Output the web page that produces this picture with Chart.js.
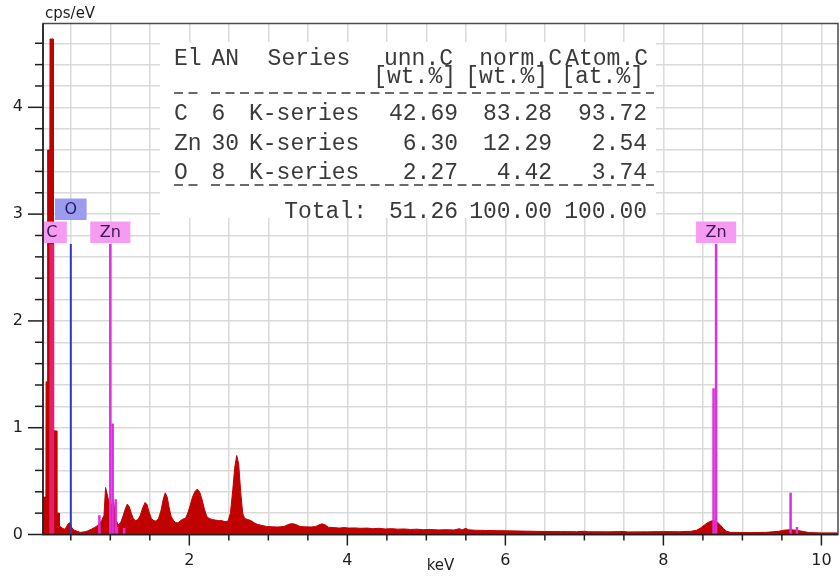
<!DOCTYPE html>
<html>
<head>
<meta charset="utf-8">
<script src="https://cdn.jsdelivr.net/npm/chart.js@4/dist/chart.umd.min.js"></script>
<style>
  html, body { margin: 0; padding: 0; background: #ffffff; }
  #wrap { width: 840px; height: 578px; }
</style>
</head>
<body>
<div id="wrap"><canvas id="edx" width="840" height="578"></canvas></div>
<script>
// EDX spectrum: energy (keV) and count rate (cps/eV)
const energyKeV = [
  0.148, 0.185, 0.187, 0.205, 0.207, 0.235, 0.237, 0.278, 0.280, 0.321,
  0.323, 0.354, 0.356, 0.39, 0.42, 0.445, 0.465, 0.49, 0.515, 0.545,
  0.58, 0.62, 0.68, 0.72, 0.76, 0.80, 0.83, 0.86, 0.89, 0.92,
  0.94, 0.975, 1.00, 1.04, 1.07, 1.10, 1.13, 1.16, 1.19, 1.215,
  1.24, 1.265, 1.29, 1.32, 1.35, 1.38, 1.41, 1.44, 1.465, 1.49,
  1.52, 1.55, 1.58, 1.61, 1.64, 1.67, 1.695, 1.72, 1.745, 1.77,
  1.80, 1.83, 1.86, 1.89, 1.92, 1.95, 1.98, 2.01, 2.04, 2.07,
  2.10, 2.13, 2.16, 2.19, 2.22, 2.25, 2.29, 2.33, 2.37, 2.41,
  2.45, 2.49, 2.52, 2.55, 2.575, 2.60, 2.625, 2.65, 2.675, 2.70,
  2.74, 2.78, 2.82, 2.86, 2.92, 2.98, 3.05, 3.12, 3.20, 3.24,
  3.28, 3.32, 3.36, 3.40, 3.46, 3.54, 3.60, 3.64, 3.68, 3.72,
  3.76, 3.82, 3.90, 3.96, 4.02, 4.10, 4.16, 4.25, 4.32, 4.40,
  4.48, 4.56, 4.64, 4.72, 4.80, 4.88, 4.96, 5.05, 5.15, 5.25,
  5.35, 5.42, 5.45, 5.50, 5.53, 5.62, 5.75, 5.90, 6.05, 6.20,
  6.35, 6.50, 6.70, 6.90, 7.00, 7.05, 7.30, 7.50, 7.55, 7.80,
  8.00, 8.20, 8.35, 8.42, 8.47, 8.52, 8.57, 8.62, 8.67, 8.72,
  8.76, 8.80, 8.85, 9.10, 9.30, 9.46, 9.52, 9.60, 9.68, 9.76,
  9.84, 10.00, 10.21
];
const countsPerEv = [
  0.35, 0.35, 1.43, 1.43, 3.60, 3.60, 4.64, 4.64, 0.97, 0.97,
  0.20, 0.20, 0.08, 0.06, 0.05, 0.07, 0.10, 0.11, 0.06, 0.04,
  0.03, 0.02, 0.025, 0.035, 0.05, 0.065, 0.08, 0.10, 0.13, 0.18,
  0.44, 0.33, 0.25, 0.32, 0.14, 0.09, 0.11, 0.17, 0.24, 0.285,
  0.26, 0.20, 0.15, 0.13, 0.14, 0.18, 0.25, 0.30, 0.28, 0.21,
  0.15, 0.13, 0.125, 0.15, 0.22, 0.33, 0.39, 0.35, 0.25, 0.17,
  0.13, 0.11, 0.11, 0.13, 0.145, 0.15, 0.20, 0.27, 0.35, 0.40,
  0.425, 0.40, 0.33, 0.24, 0.17, 0.15, 0.14, 0.135, 0.13, 0.13,
  0.12, 0.125, 0.20, 0.42, 0.63, 0.74, 0.66, 0.40, 0.20, 0.15,
  0.14, 0.13, 0.11, 0.095, 0.085, 0.075, 0.072, 0.07, 0.075, 0.09,
  0.10, 0.10, 0.09, 0.075, 0.072, 0.07, 0.075, 0.09, 0.10, 0.09,
  0.068, 0.065, 0.06, 0.065, 0.06, 0.062, 0.058, 0.06, 0.055, 0.058,
  0.052, 0.055, 0.05, 0.052, 0.047, 0.05, 0.045, 0.047, 0.043, 0.045,
  0.042, 0.055, 0.043, 0.058, 0.044, 0.04, 0.038, 0.036, 0.034, 0.032,
  0.03, 0.028, 0.027, 0.026, 0.03, 0.026, 0.025, 0.028, 0.024, 0.025,
  0.027, 0.026, 0.03, 0.04, 0.06, 0.09, 0.115, 0.13, 0.125, 0.09,
  0.055, 0.03, 0.02, 0.018, 0.02, 0.03, 0.04, 0.045, 0.04, 0.03,
  0.018, 0.015, 0.015
];

// Element marker lines
const lineElements = ['C', 'O', 'Zn', 'Zn', 'Zn', 'Zn', 'Zn', 'Zn', 'Zn', 'Zn', 'Zn', 'Zn'];
const lineEnergies = [0.259, 0.500, 0.862, 1.000, 1.030, 1.068, 1.085, 1.175, 8.635, 8.667, 9.610, 9.690];
const lineHeights  = [2.72, 2.72, 0.18, 2.72, 1.04, 0.33, 0.07, 0.06, 1.37, 2.72, 0.39, 0.07];

// Element labels sitting on top of the principal lines
const labelElements = ['C', 'O', 'Zn', 'Zn'];
const labelEnergies = [0.259, 0.500, 1.000, 8.667];

// Quantification table
const tableHeader   = ['El', 'AN', 'Series', 'unn.C', 'norm.C', 'Atom.C'];
const tableUnits    = ['[wt.%]', '[wt.%]', '[at.%]'];
const tableElements = ['C', 'Zn', 'O'];
const tableAN       = ['6', '30', '8'];
const tableSeries   = ['K-series', 'K-series', 'K-series'];
const unnC          = [42.69, 6.30, 2.27];
const normC         = [83.28, 12.29, 4.42];
const atomC         = [93.72, 2.54, 3.74];
const tableTotals   = [51.26, 100.00, 100.00];

// Axis tick labels
const xTickLabels = [2, 4, 6, 8, 10];
const yTickLabels = [0, 1, 2, 3, 4];

// ---- styles ----
const elementStyle = {
  C:  { line: '#e4206c', width: 5,   box: '#f59bf2', text: '#3a1550' },
  O:  { line: '#3038c4', width: 2,   box: '#9b9cf0', text: '#1c1c5a' },
  Zn: { line: '#de2fde', width: 2.5, box: '#f59bf2', text: '#3a1550' }
};
const sansFont = '"DejaVu Sans", Verdana, sans-serif';
const monoFont = '"Liberation Mono", "DejaVu Sans Mono", monospace';

const near = (v, t) => Math.abs(v - t) < 1e-6;

const spectrum = {
  type: 'line',
  label: 'spectrum',
  data: energyKeV.map((e, i) => ({ x: e, y: countsPerEv[i] })),
  borderColor: '#c10000',
  backgroundColor: '#c10000',
  borderWidth: 1,
  pointRadius: 0,
  tension: 0,
  fill: 'origin',
  order: 10
};

const markerSets = lineEnergies.map((e, i) => {
  const st = elementStyle[lineElements[i]];
  return {
    type: 'line',
    label: lineElements[i],
    data: [{ x: e, y: 0 }, { x: e, y: lineHeights[i] }],
    borderColor: st.line,
    borderWidth: st.width,
    borderCapStyle: 'butt',
    pointRadius: 0,
    fill: false,
    order: 1
  };
});

const decor = {
  id: 'edxDecor',
  afterDatasetsDraw(chart) {
    const ctx = chart.ctx;
    const { left, right, top, bottom } = chart.chartArea;
    const xs = chart.scales.x, ys = chart.scales.y;
    ctx.save();

    // element label boxes, stacked upward when they collide
    ctx.font = '16px ' + sansFont;
    const boxH = 21.5, gap = 1.5;
    const baseBottom = ys.getPixelForValue(Math.max(...lineHeights)) - 1;
    const placed = [];
    labelElements.forEach((el, i) => {
      const st = elementStyle[el];
      const cx = xs.getPixelForValue(labelEnergies[i]);
      const w = ctx.measureText(el).width + 19;
      const x0 = cx - w / 2, x1 = cx + w / 2;
      let tier = 0;
      while (placed.some(p => p.tier === tier && x0 < p.x1 && x1 > p.x0)) tier++;
      placed.push({ x0, x1, tier });
      const yb = baseBottom - tier * (boxH + gap);
      const bx0 = Math.max(left + 1, x0), bx1 = Math.min(right - 1, x1);
      ctx.fillStyle = st.box;
      ctx.fillRect(bx0, yb - boxH, bx1 - bx0, boxH);
      ctx.fillStyle = st.text;
      ctx.textAlign = 'center';
      ctx.textBaseline = 'middle';
      ctx.fillText(el, cx, yb - boxH / 2 + 1);
    });

    // quantification table
    ctx.fillStyle = '#ffffff';
    ctx.fillRect(160, 42, 496, 176);
    ctx.fillStyle = '#3a3a3a';
    ctx.font = '23px ' + monoFont;
    ctx.textBaseline = 'alphabetic';
    const colR = [458, 552, 647];
    const headR = [453, 562, 648];
    const unitR = [456, 548, 644];
    ctx.textAlign = 'left';
    ctx.fillText(tableHeader[0], 174, 65);
    ctx.fillText(tableHeader[1], 211.5, 65);
    ctx.textAlign = 'center';
    ctx.fillText(tableHeader[2], 309, 65);
    ctx.textAlign = 'right';
    for (let c = 0; c < 3; c++) {
      ctx.fillText(tableHeader[3 + c], headR[c], 65);
      ctx.fillText(tableUnits[c], unitR[c], 83);
    }
    const rowY = [120, 149.5, 179];
    tableElements.forEach((el, r) => {
      ctx.textAlign = 'left';
      ctx.fillText(el, 174, rowY[r]);
      ctx.fillText(tableAN[r], 211.5, rowY[r]);
      ctx.fillText(tableSeries[r], 249, rowY[r]);
      ctx.textAlign = 'right';
      ctx.fillText(unnC[r].toFixed(2), colR[0], rowY[r]);
      ctx.fillText(normC[r].toFixed(2), colR[1], rowY[r]);
      ctx.fillText(atomC[r].toFixed(2), colR[2], rowY[r]);
    });
    ctx.textAlign = 'right';
    ctx.fillText('Total:', 367, 218);
    tableTotals.forEach((v, c) => ctx.fillText(v.toFixed(2), colR[c], 218));

    ctx.strokeStyle = '#3a3a3a';
    ctx.lineWidth = 1.5;
    ctx.setLineDash([9, 5.5]);
    [93, 185].forEach(y => {
      ctx.beginPath();
      ctx.moveTo(174, y); ctx.lineTo(198, y);
      ctx.moveTo(211, y); ctx.lineTo(654, y);
      ctx.stroke();
    });
    ctx.setLineDash([]);

    // plot frame
    ctx.strokeStyle = '#4a4a4a';
    ctx.lineWidth = 1.5;
    ctx.strokeRect(left, top, right - left, bottom - top);
    ctx.strokeStyle = '#1e1e1e';
    ctx.beginPath();
    ctx.moveTo(left, top); ctx.lineTo(left, bottom); ctx.lineTo(right, bottom);
    ctx.stroke();

    // tick marks
    ctx.lineWidth = 1.5;
    ys.ticks.forEach(t => {
      const y = ys.getPixelForValue(t.value);
      const major = yTickLabels.some(v => near(v, t.value));
      ctx.beginPath();
      ctx.moveTo(left - (major ? 15 : 8), y);
      ctx.lineTo(left, y);
      ctx.stroke();
    });
    xs.ticks.forEach(t => {
      const x = xs.getPixelForValue(t.value);
      const major = xTickLabels.some(v => near(v, t.value));
      ctx.beginPath();
      ctx.moveTo(x, bottom);
      ctx.lineTo(x, bottom + (major ? 11 : 6));
      ctx.stroke();
    });

    // axis titles
    ctx.fillStyle = '#1e1e1e';
    ctx.font = '15px ' + sansFont;
    ctx.textAlign = 'left';
    ctx.textBaseline = 'middle';
    ctx.fillText('cps/eV', 45, 14);
    ctx.textAlign = 'center';
    ctx.fillText('keV', (left + right) / 2, 566);
    ctx.restore();
  }
};

new Chart(document.getElementById('edx'), {
  type: 'line',
  data: { datasets: [spectrum, ...markerSets] },
  options: {
    responsive: false,
    animation: false,
    devicePixelRatio: 1,
    layout: { padding: { top: 23.5, right: 2, left: 0, bottom: 0 } },
    plugins: { legend: { display: false }, tooltip: { enabled: false } },
    scales: {
      x: {
        type: 'linear',
        min: 0.148,
        max: 10.21,
        border: { display: false },
        grid: { color: '#dadada', lineWidth: 1.5, drawTicks: false },
        ticks: {
          stepSize: 0.5,
          includeBounds: false,
          autoSkip: false,
          maxRotation: 0,
          padding: 17,
          color: '#1e1e1e',
          font: { family: sansFont, size: 16 },
          callback: v => {
            const hit = xTickLabels.find(l => near(l, v));
            return hit === undefined ? '' : String(hit);
          }
        },
        afterFit: s => { s.height = 43.5; s.paddingLeft = 0; s.paddingRight = 0; }
      },
      y: {
        min: 0,
        max: 4.785,
        border: { display: false },
        grid: { color: '#dadada', lineWidth: 1.5, drawTicks: false },
        ticks: {
          stepSize: 0.2,
          includeBounds: false,
          autoSkip: false,
          padding: 20,
          color: '#1e1e1e',
          font: { family: sansFont, size: 16 },
          callback: v => {
            const hit = yTickLabels.find(l => near(l, v));
            return hit === undefined ? '' : String(hit);
          }
        },
        afterFit: s => { s.width = 43; s.paddingTop = 0; s.paddingBottom = 0; }
      }
    }
  },
  plugins: [decor]
});
</script>
</body>
</html>
